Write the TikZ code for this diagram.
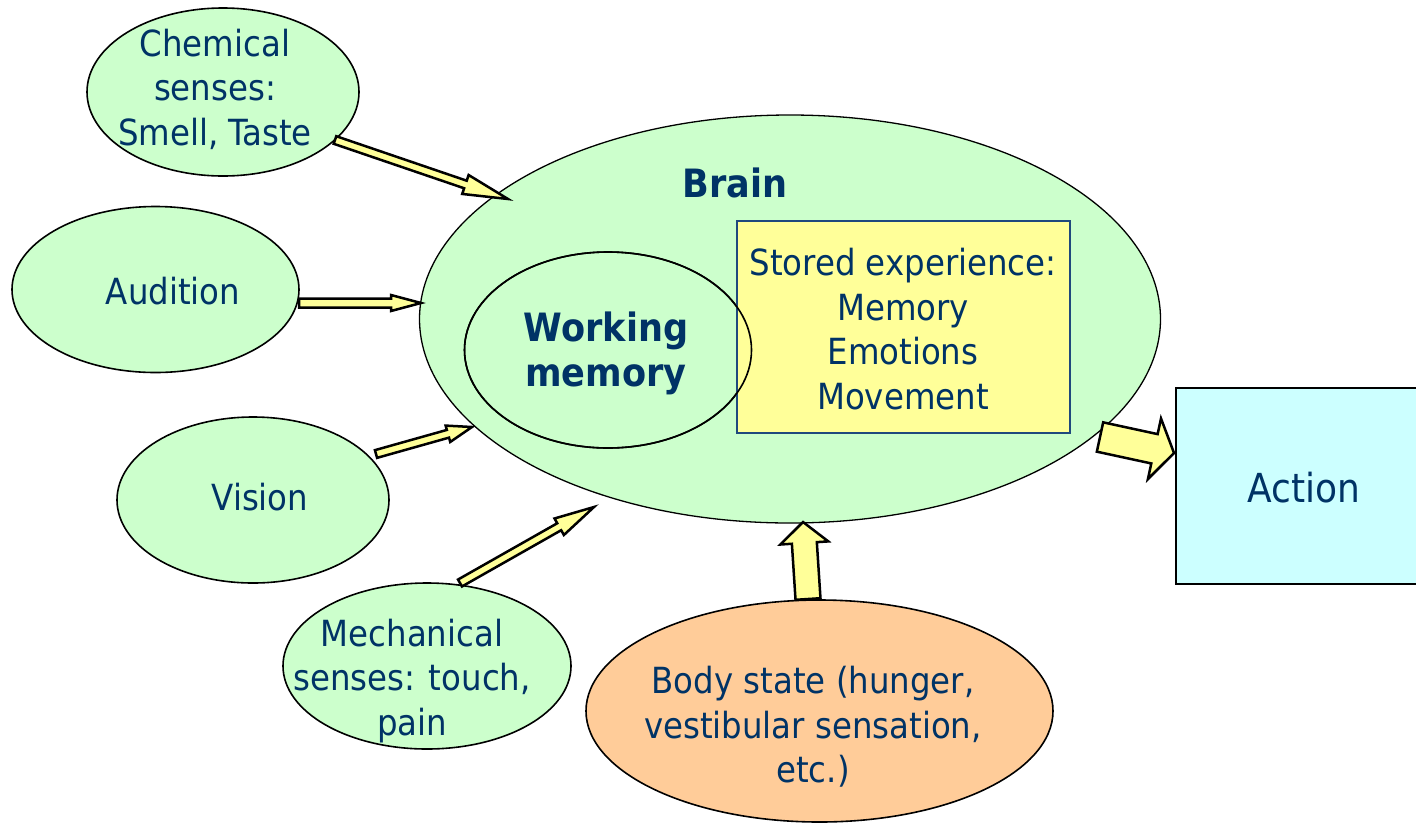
\documentclass[tikz,border=0pt]{standalone}
\usepackage{fontspec}
\setmainfont{DejaVu Sans Condensed}
\usetikzlibrary{shapes.geometric,calc}
\definecolor{txt}{RGB}{0,51,102}
\definecolor{lgreen}{RGB}{204,255,204}
\definecolor{lyellow}{RGB}{255,255,153}
\definecolor{lpeach}{RGB}{255,204,153}
\definecolor{lcyan}{RGB}{204,255,255}
\definecolor{rectline}{RGB}{31,73,125}
\newcommand{\blockarr}[5]{%
  \coordinate (tmph) at ($(#2)!#5!(#1)$);
  \draw[arrowbox] ($(#1)!#3!90:(#2)$) -- ($(tmph)!#3!90:(#2)$) -- ($(tmph)!#4!90:(#2)$) -- (#2)
    -- ($(tmph)!#4!-90:(#2)$) -- ($(tmph)!#3!-90:(#2)$) -- ($(#1)!#3!-90:(#2)$) -- cycle;
}
\begin{document}
\begin{tikzpicture}[x=1pt,y=-1pt,
  sense/.style={ellipse,draw=black,line width=1.6pt,fill=lgreen,inner sep=0pt},
  lbl/.style={text=txt,font=\fontsize{36}{44.5}\selectfont,align=center,inner sep=0pt},
  blbl/.style={lbl,font=\fontsize{39}{45}\selectfont\bfseries},
  arrowbox/.style={draw=black,line width=2.5pt,fill=lyellow,line join=miter}]
\useasboundingbox (0,0) rectangle (1416,823);
% Brain
\node[sense,line width=1.3pt,minimum width=741pt,minimum height=408pt] (brain) at (790,319) {};
\node[sense,line width=1.6pt,minimum width=287pt,minimum height=196pt] (wm) at (608,350) {};
\node[draw=rectline,line width=1.4pt,fill=lyellow,minimum width=333pt,minimum height=212pt,inner sep=0pt] (stored) at (903.5,327) {};
\node[ellipse,draw=black,line width=1.6pt,inner sep=0pt,minimum width=287pt,minimum height=196pt] (wmline) at (608,350) {};
\node[blbl] (brainlbl) at (735,183) {Brain};
\node[blbl] (wmlbl) at (606,353) {Working\\memory};
\node[lbl] (storedlbl) at (903,329) {Stored experience:\\Memory\\Emotions\\Movement};
% senses
\node[sense,minimum width=272pt,minimum height=168pt] (chem) at (223,92) {};
\node[lbl] (chemlbl) at (215,89) {Chemical\\senses:\\Smell, Taste};
\node[sense,minimum width=287pt,minimum height=166pt] (aud) at (155.5,289.5) {};
\node[lbl] (audlbl) at (173,291) {Audition};
\node[sense,minimum width=272pt,minimum height=166pt] (vis) at (253,500) {};
\node[lbl] (vislbl) at (260,497) {Vision};
\node[sense,minimum width=288pt,minimum height=166pt] (mech) at (427,666) {};
\node[lbl] (mechlbl) at (412,681) {Mechanical\\senses: touch,\\pain};
\node[sense,fill=lpeach,minimum width=467pt,minimum height=222pt] (body) at (819.5,711) {};
\node[lbl] (bodylbl) at (813,727) {Body state (hunger,\\vestibular sensation,\\etc.)};
% Action
\node[draw=black,line width=1.6pt,fill=lcyan,minimum width=250pt,minimum height=196pt,inner sep=0pt,anchor=north west] (action) at (1175,387) {};
\node[lbl,font=\fontsize{40}{48}\selectfont] (actionlbl) at (1304,488) {Action};
% arrows
\coordinate (c1) at (335,140); \coordinate (c2) at (508,199);
\coordinate (a1) at (299,303); \coordinate (a2) at (421,303);
\coordinate (v1) at (376,454); \coordinate (v2) at (472,427);
\coordinate (m1) at (460,583); \coordinate (m2) at (594,507);
\coordinate (b1) at (808,599); \coordinate (b2) at (803,522);
\coordinate (x1) at (1100,437); \coordinate (x2) at (1174,453);
\blockarr{c1}{c2}{4pt}{10pt}{45pt}
\blockarr{a1}{a2}{4.5pt}{8pt}{30pt}
\blockarr{v1}{v2}{4pt}{8.5pt}{25pt}
\blockarr{m1}{m2}{4pt}{9.5pt}{40pt}
\blockarr{b1}{b2}{12.5pt}{24pt}{21pt}
\blockarr{x1}{x2}{15pt}{31pt}{20pt}
\end{tikzpicture}
\end{document}
